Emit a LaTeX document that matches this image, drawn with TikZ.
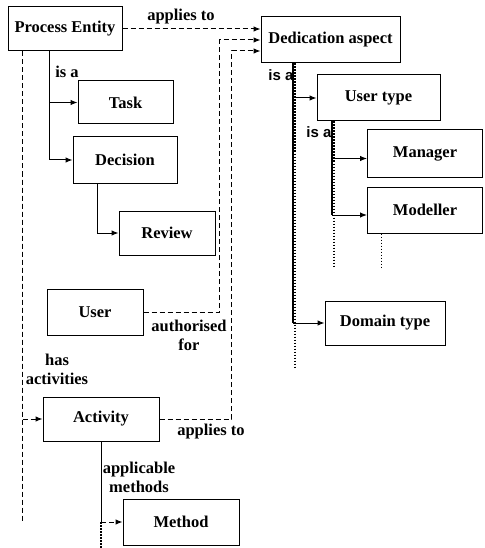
\documentclass[tikz,border=0pt]{standalone}
\usepackage{fontspec}
\setmainfont{Liberation Serif}
\newfontfamily\arialfont{Liberation Sans}
\usetikzlibrary{arrows, arrows.meta}

\tikzset{
  entity/.style={draw, line width=1pt, inner sep=0pt, font=\bfseries\fontsize{16.5}{18}\selectfont},
  lbl/.style={font=\bfseries\fontsize{16.5}{19}\selectfont, inner sep=0pt, align=center},
  isa/.style={font=\arialfont\bfseries\fontsize{15}{16}\selectfont, inner sep=0pt},
  rel/.style={dash pattern=on 5pt off 3pt},
  dotline/.style={dash pattern=on 1.5pt off 1.5pt, line width=1.2pt},
  heavy/.style={line width=1.6pt}
}

\begin{document}
\begin{tikzpicture}[x=1pt,y=-1pt,>={Latex[length=7pt,width=5.5pt]},line width=1pt]
\useasboundingbox (0,0) rectangle (484,548);
\node[entity, minimum width=114pt, minimum height=44pt] (PE) at (65,29) {Process Entity};
\node[entity, minimum width=95pt, minimum height=43pt] (Task) at (125.5,102.5) {Task};
\node[entity, minimum width=104pt, minimum height=46pt] (Decision) at (125,160) {Decision};
\node[entity, minimum width=96pt, minimum height=44pt] (Review) at (167,233) {Review};
\node[entity, minimum width=96pt, minimum height=46pt] (User) at (95,312) {User};
\node[entity, minimum width=116pt, minimum height=44pt] (Activity) at (101,419) {Activity};
\node[entity, minimum width=116pt, minimum height=46pt] (Method) at (181,522) {Method};
\node[entity, minimum width=139pt, minimum height=46pt] (DA) at (330.5,40) {Dedication aspect};
\node[entity, minimum width=123pt, minimum height=46pt] (UT) at (378.5,98) {User type};
\node[entity, minimum width=115pt, minimum height=47pt] (Manager) at (425,153.5) {Manager};
\node[entity, minimum width=115pt, minimum height=46pt] (Modeller) at (425,210) {Modeller};
\node[entity, minimum width=120pt, minimum height=44pt] (DT) at (385,323) {Domain type};

% labels
\node[lbl] (l1) at (181,17) {applies to};
\node[lbl] (l2) at (67,72) {is a};
\node[isa] (l3) at (281,75) {is a};
\node[isa] (l4) at (319,132) {is a};
\node[lbl] (l5) at (189,335) {authorised\\for};
\node[lbl] (l6) at (57,369) {has\\activities};
\node[lbl] (l7) at (211,432) {applies to};
\node[lbl] (l8) at (139,477) {applicable\\methods};

% is a links
\draw[->] ([xshift=-16pt]PE.south) |- (Task.west);
\draw[->] ([xshift=-16pt]PE.south) |- (Decision.west);
\draw[->] ([xshift=-28pt]Decision.south) |- (Review.west);
\draw[heavy] ([xshift=-37.5pt]DA.south) -- ([xshift=-37.5pt]DA.south |- DT.west);
\draw[->] ([xshift=-37.5pt]DA.south |- UT.west) -- (UT.west);
\draw[->] ([xshift=-37.5pt]DA.south |- DT.west) -- (DT.west);
\draw[dotline] ([xshift=-35.5pt]DA.south) -- ++(0,305);
\draw[heavy] ([xshift=-46.5pt]UT.south) -- ([xshift=-46.5pt,yshift=-5pt]UT.south |- Modeller.west);
\draw[->] ([xshift=-46.5pt,yshift=-5pt]UT.south |- Manager.west) -- ([yshift=-5pt]Manager.west);
\draw[->] ([xshift=-46.5pt,yshift=-5pt]UT.south |- Modeller.west) -- ([yshift=-5pt]Modeller.west);
\draw[dotline] ([xshift=-44.5pt]UT.south) -- ++(0,146);
\draw[dotline] ([xshift=-43.5pt]Modeller.south) -- ++(0,34);

% relations
\draw[rel,->] (PE.east) -- (PE.east -| DA.west);
\draw[rel,->] (User.east) -| ([xshift=-41pt]DA.west) -- (DA.west);
\draw[rel,->] (Activity.east) -| ([xshift=-29pt,yshift=-11pt]DA.west) -- ([yshift=-11pt]DA.west);
\draw[rel,->] ([xshift=-43pt]PE.south) |- (Activity.west);
\draw[rel] ([xshift=-43pt]PE.south) -- ([xshift=-43pt]PE.south |- Method.west);
\draw (Activity.south) -- (Activity.south |- Method.west);
\draw[rel,->] (Activity.south |- Method.west) -- (Method.west);
\draw[dotline] (Activity.south |- Method.west) -- ++(0,26);
\end{tikzpicture}
\end{document}
